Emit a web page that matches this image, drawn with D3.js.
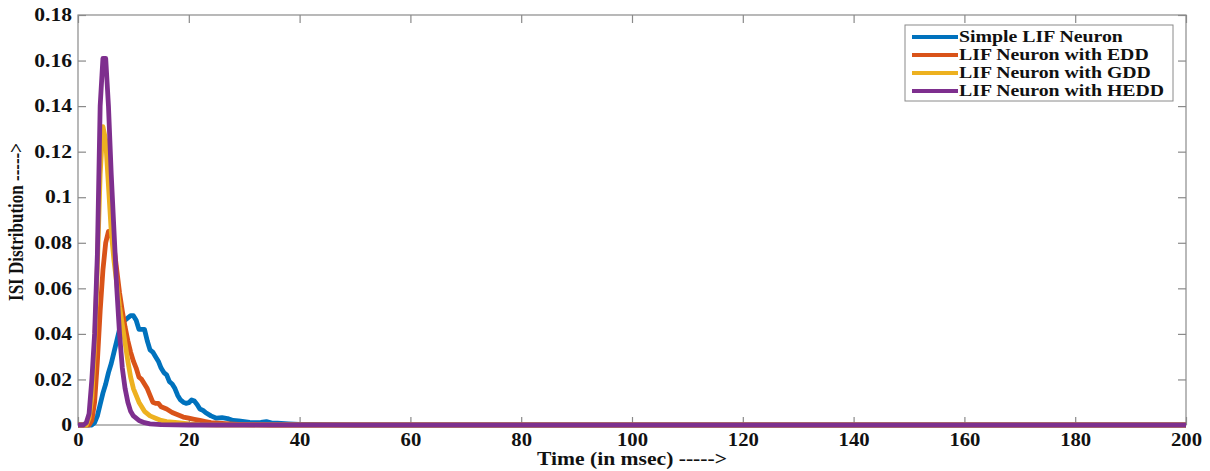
<!DOCTYPE html>
<html>
<head>
<meta charset="utf-8">
<script src="https://cdn.jsdelivr.net/npm/d3@7"></script>
<style>
  html, body { margin: 0; padding: 0; background: #fff; }
  svg { display: block; }
  text { font-family: "Liberation Serif", "Times New Roman", serif; font-weight: bold; fill: #111; }
</style>
</head>
<body>
<svg id="chart" width="1210" height="471"></svg>
<script>
// ISI distributions of four LIF neuron variants (time in ms, probability per bin)
const seriesNames = ["Simple LIF Neuron", "LIF Neuron with EDD", "LIF Neuron with GDD", "LIF Neuron with HEDD"];
const seriesColors = ["#0072BD", "#D95319", "#EDB120", "#7E2F8E"];

const timeSimple = [0, 2.5, 3, 3.5, 4, 4.5, 5, 5.5, 6, 6.5, 7, 7.5, 8, 8.5, 9, 9.5, 10, 10.5, 11, 11.5, 12,
  12.5, 13, 13.5, 14, 14.5, 15, 15.5, 16, 16.5, 17, 17.5, 18, 18.5, 19, 19.5, 20, 20.5, 21, 21.5, 22, 22.5, 23,
  24, 25, 26, 27, 28, 29, 30, 31, 32, 33, 34, 35, 36, 38, 40, 42, 45, 50, 200];
const isiSimple = [0, 0, 0.001, 0.004, 0.009, 0.014, 0.018, 0.023, 0.027, 0.032, 0.037, 0.042, 0.046, 0.046, 0.047, 0.048, 0.048, 0.046, 0.042, 0.042, 0.042,
  0.037, 0.033, 0.032, 0.030, 0.028, 0.025, 0.023, 0.022, 0.019, 0.018, 0.016, 0.013, 0.011, 0.010, 0.0095, 0.0098, 0.011, 0.0105, 0.009, 0.007, 0.0065, 0.0055,
  0.004, 0.003, 0.0032, 0.0028, 0.002, 0.0018, 0.0015, 0.0012, 0.001, 0.0012, 0.0015, 0.0008, 0.0008, 0.0005, 0.0003, 0.0003, 0.0002, 0, 0];

const timeEdd = [0, 2, 2.5, 3, 3.5, 4, 4.5, 5, 5.5, 6, 6.5, 7, 7.5, 8, 8.5, 9, 9.5, 10, 10.5, 11, 11.5, 12, 12.5, 13, 13.5, 14, 14.5, 15,
  16, 17, 18, 19, 20, 21, 22, 23, 24, 26, 28, 30, 35, 200];
const isiEdd = [0, 0, 0.002, 0.010, 0.028, 0.050, 0.068, 0.080, 0.085, 0.084, 0.078, 0.068, 0.058, 0.050, 0.043, 0.037, 0.032, 0.028, 0.025, 0.021, 0.020, 0.018, 0.016, 0.013, 0.010, 0.0095, 0.0095, 0.008,
  0.007, 0.0055, 0.0045, 0.0035, 0.003, 0.0025, 0.002, 0.0015, 0.001, 0.0007, 0.0004, 0.0002, 0, 0];

const timeGdd = [0, 1.5, 2, 2.5, 3, 3.5, 4, 4.5, 5, 5.5, 6, 6.5, 7, 7.5, 8, 8.5, 9, 9.5, 10, 10.5, 11,
  12, 13, 14, 15, 16, 18, 20, 22, 25, 200];
const isiGdd = [0, 0, 0.003, 0.012, 0.035, 0.070, 0.110, 0.131, 0.125, 0.105, 0.085, 0.072, 0.062, 0.052, 0.044, 0.036, 0.028, 0.021, 0.016, 0.013, 0.010,
  0.006, 0.004, 0.003, 0.002, 0.0015, 0.001, 0.0005, 0.0002, 0, 0];

const timeHedd = [0, 1, 1.5, 2, 2.5, 3, 3.5, 4, 4.5, 5, 5.5, 6, 6.5, 7, 7.5, 8, 8.5, 9, 9.5, 10,
  11, 12, 13, 15, 20, 200];
const isiHedd = [0, 0, 0.001, 0.005, 0.020, 0.040, 0.075, 0.140, 0.161, 0.161, 0.140, 0.110, 0.085, 0.060, 0.040, 0.025, 0.016, 0.010, 0.006, 0.004,
  0.002, 0.001, 0.0005, 0.0002, 0, 0];

const xTicks = [0, 20, 40, 60, 80, 100, 120, 140, 160, 180, 200];
const yTicks = [0, 0.02, 0.04, 0.06, 0.08, 0.1, 0.12, 0.14, 0.16, 0.18];
const xTitle = "Time (in msec) ----->";
const yTitle = "ISI Distribution ----->";

const series = [
  { name: seriesNames[0], color: seriesColors[0], points: d3.zip(timeSimple, isiSimple) },
  { name: seriesNames[1], color: seriesColors[1], points: d3.zip(timeEdd, isiEdd) },
  { name: seriesNames[2], color: seriesColors[2], points: d3.zip(timeGdd, isiGdd) },
  { name: seriesNames[3], color: seriesColors[3], points: d3.zip(timeHedd, isiHedd) }
];

const svg = d3.select("#chart");
const plot = { left: 78, right: 1186, top: 15, bottom: 425 };
const textStretch = 1.15;   // the figure's lettering is set wide

const x = d3.scaleLinear().domain([0, 200]).range([plot.left, plot.right]);
const y = d3.scaleLinear().domain([0, 0.18]).range([plot.bottom, plot.top]);

const axisColor = "#8a8a8a";
const tickLen = 8;
const fontFamily = '"Liberation Serif", "Times New Roman", serif';

// axes box
svg.append("rect")
  .attr("x", plot.left).attr("y", plot.top)
  .attr("width", plot.right - plot.left).attr("height", plot.bottom - plot.top)
  .attr("fill", "none").attr("stroke", axisColor).attr("stroke-width", 1.2);

function styleAxis(g, labels) {
  g.select(".domain").remove();
  g.selectAll(".tick line").attr("stroke", axisColor).attr("stroke-width", 1.2);
  if (!labels) g.selectAll(".tick text").remove();
  g.selectAll(".tick text")
    .attr("fill", "#111")
    .style("font-family", fontFamily)
    .style("font-weight", "bold")
    .style("font-size", "18px");
}

// bottom axis: ticks pointing inward, labels below
const xAxisG = svg.append("g").attr("transform", `translate(0,${plot.bottom})`)
  .call(d3.axisBottom(x).tickValues(xTicks).tickSize(-tickLen).tickPadding(8).tickFormat(d3.format("d")));
styleAxis(xAxisG, true);
xAxisG.selectAll(".tick text").attr("transform", `scale(${textStretch},1)`);

// top axis (ticks only)
const xTopG = svg.append("g").attr("transform", `translate(0,${plot.top})`)
  .call(d3.axisTop(x).tickValues(xTicks).tickSize(-tickLen));
styleAxis(xTopG, false);

// left axis
const yAxisG = svg.append("g").attr("transform", `translate(${plot.left},0)`)
  .call(d3.axisLeft(y).tickValues(yTicks).tickSize(-tickLen).tickPadding(5).tickFormat(d => d === 0 ? "0" : String(+d.toFixed(2))));
styleAxis(yAxisG, true);
yAxisG.selectAll(".tick text").attr("transform", `scale(${textStretch + 0.05},1)`);

// right axis (ticks only)
const yRightG = svg.append("g").attr("transform", `translate(${plot.right},0)`)
  .call(d3.axisRight(y).tickValues(yTicks).tickSize(-tickLen));
styleAxis(yRightG, false);

// curves
const line = d3.line().x(d => x(d[0])).y(d => y(d[1]));
svg.append("g").selectAll("path").data(series).join("path")
  .attr("d", d => line(d.points))
  .attr("fill", "none")
  .attr("stroke", d => d.color)
  .attr("stroke-width", 4.8)
  .attr("stroke-linejoin", "round")
  .attr("stroke-linecap", "butt");

// axis titles
svg.append("text")
  .attr("transform", `translate(${(plot.left + plot.right) / 2},465) scale(1.2,1)`)
  .attr("text-anchor", "middle").style("font-size", "18px").text(xTitle);

svg.append("text")
  .attr("transform", `translate(23,${(plot.top + plot.bottom) / 2 + 2}) rotate(-90) scale(1,1.2)`)
  .attr("text-anchor", "middle").style("font-size", "17px").text(yTitle);

// legend
const legend = { x: 905, y: 25, w: 268, h: 76, row: 18 };
const lg = svg.append("g");
lg.append("rect")
  .attr("x", legend.x).attr("y", legend.y).attr("width", legend.w).attr("height", legend.h)
  .attr("fill", "#fff").attr("stroke", axisColor).attr("stroke-width", 1);
const items = lg.selectAll("g.item").data(series).join("g")
  .attr("class", "item")
  .attr("transform", (d, i) => `translate(${legend.x + 7},${legend.y + 12 + i * legend.row})`);
items.append("line")
  .attr("x1", 0).attr("x2", 46).attr("y1", 0).attr("y2", 0)
  .attr("stroke", d => d.color).attr("stroke-width", 4);
items.append("text")
  .attr("transform", `translate(47,5) scale(1.2,1)`)
  .style("font-size", "16.5px").text(d => d.name);
</script>
</body>
</html>
